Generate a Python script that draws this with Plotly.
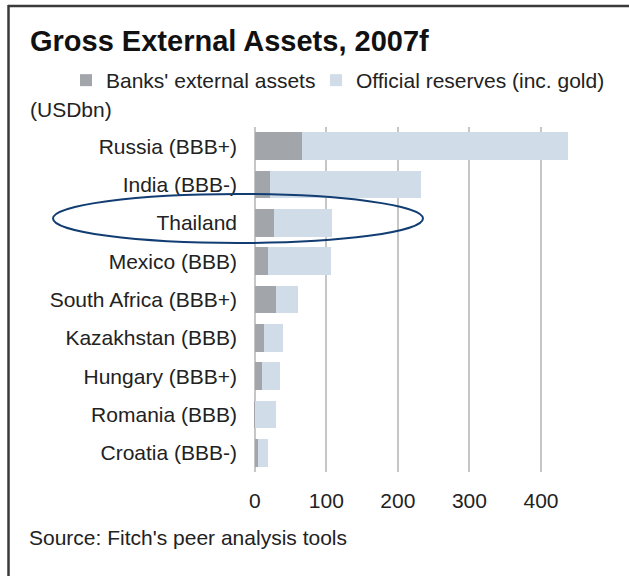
import plotly.graph_objects as go

countries = ["Russia (BBB+)", "India (BBB-)", "Thailand", "Mexico (BBB)",
             "South Africa (BBB+)", "Kazakhstan (BBB)", "Hungary (BBB+)",
             "Romania (BBB)", "Croatia (BBB-)"]
banks_assets = [66, 21, 27, 18, 30, 13, 10, 1, 5]
official_reserves = [372, 211, 81, 88, 31, 26, 26, 29, 14]
x_ticks = [0, 100, 200, 300, 400]

FONT = "Liberation Sans, Arial, sans-serif"
W, H = 629, 576
L, R, T, B = 252, 49, 127, 104
pw, ph = W - L - R, H - T - B

def px_x(p):
    return (p - L) / pw

def px_y(p):
    return (H - B - p) / ph

fig = go.Figure()
fig.add_trace(go.Bar(y=countries, x=banks_assets, orientation="h",
                     name="Banks' external assets", legend="legend",
                     marker=dict(color="#a2a6aa", line=dict(width=0))))
fig.add_trace(go.Bar(y=countries, x=official_reserves, orientation="h",
                     name="Official reserves (inc. gold)", legend="legend2",
                     marker=dict(color="#d0dce7", line=dict(width=0))))

legend_common = dict(orientation="h", xref="container", xanchor="left",
                     yref="container", y=1 - 60 / H, yanchor="top",
                     font=dict(size=21, color="#222222"),
                     bgcolor="rgba(0,0,0,0)")

fig.update_layout(
    width=W, height=H, barmode="stack", bargap=0.28,
    margin=dict(l=L, r=R, t=T, b=B, autoexpand=False),
    paper_bgcolor="white", plot_bgcolor="white",
    font=dict(family=FONT, size=21, color="#222222"),
    title=dict(text="<b>Gross External Assets, 2007f</b>", x=30 / W, xanchor="left",
               y=1 - 41 / H, yanchor="middle",
               font=dict(family=FONT, size=29, color="#111111")),
    legend=dict(x=66 / W, **legend_common),
    legend2=dict(x=316 / W, **legend_common),
    xaxis=dict(range=[-3.8, 454.5], tickvals=x_ticks, showgrid=True,
               gridcolor="#c6c6c6", gridwidth=2, zeroline=False,
               showline=False, ticks="", ticklabelstandoff=14,
               tickfont=dict(size=21)),
    yaxis=dict(type="category", categoryorder="array", categoryarray=countries,
               autorange="reversed", showgrid=False, zeroline=False,
               showline=False, ticks="", ticklabelstandoff=14,
               tickfont=dict(size=21)),
    showlegend=True,
)

fig.add_annotation(text="(USDbn)", xref="paper", yref="paper",
                   x=px_x(28), y=px_y(109), xanchor="left", yanchor="middle",
                   showarrow=False, font=dict(size=21, color="#222222"))
fig.add_annotation(text="Source: Fitch's peer analysis tools", xref="paper", yref="paper",
                   x=px_x(27), y=px_y(537), xanchor="left", yanchor="middle",
                   showarrow=False, font=dict(size=21, color="#222222"))

# frame lines
fig.add_shape(type="line", xref="paper", yref="paper", x0=px_x(8), x1=px_x(W),
              y0=px_y(6), y1=px_y(6), line=dict(color="#3a3a3a", width=2.5))
fig.add_shape(type="line", xref="paper", yref="paper", x0=px_x(8.5), x1=px_x(8.5),
              y0=px_y(5), y1=px_y(H), line=dict(color="#3a3a3a", width=2.5))
# highlight ellipse around Thailand
fig.add_shape(type="circle", xref="paper", yref="paper", x0=px_x(53), x1=px_x(423),
              y0=px_y(243), y1=px_y(194), line=dict(color="#123d73", width=2))

fig.write_html("out.html")
